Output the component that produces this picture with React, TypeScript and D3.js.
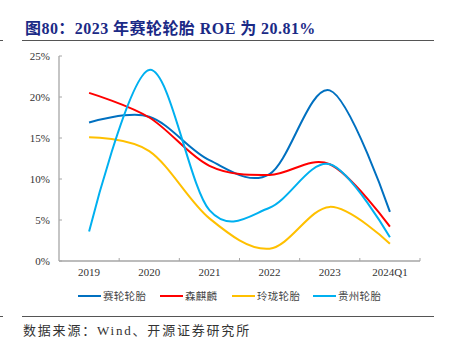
import React from "react";
import * as d3 from "d3";

const years = ["2019", "2020", "2021", "2022", "2023", "2024Q1"];
const sailun = [16.9, 17.6, 12.3, 10.6, 20.81, 6.0];
const senqilin = [20.5, 17.5, 11.6, 10.5, 11.8, 4.2];
const linglong = [15.1, 13.4, 5.2, 1.5, 6.6, 2.1];
const guizhou = [3.6, 23.3, 6.2, 6.5, 11.8, 2.9];
const yTicks = [0, 5, 10, 15, 20, 25];

const seriesList = [
  { name: "赛轮轮胎", values: sailun, color: "#0070C0" },
  { name: "森麒麟", values: senqilin, color: "#FF0000" },
  { name: "玲珑轮胎", values: linglong, color: "#FFC000" },
  { name: "贵州轮胎", values: guizhou, color: "#00B0F0" },
];

const serif = '"Times New Roman", "Liberation Serif", "Noto Sans CJK SC", serif';
const axisColor = "#a6a6a6";

const App = () => {
  const width = 454;
  const height = 352;
  const left = 59;
  const right = 420;
  const top = 56;
  const bottom = 261;

  const x = d3.scaleBand().domain(years).range([left, right]);
  const y = d3.scaleLinear().domain([0, 25]).range([bottom, top]);

  const line = d3
    .line<number>()
    .x((d, i) => (x(years[i]) as number) + x.bandwidth() / 2)
    .y((d) => y(d))
    .curve(d3.curveCardinal.tension(0));

  const legendX = [78, 160, 232, 313];

  return (
    <div style={{ position: "absolute", left: 0, top: 0 }}>
      <svg width={width} height={height} style={{ display: "block", background: "#fff" }}>
        {/* title */}
        <text
          x={25}
          y={34}
          fontFamily={serif}
          fontSize={16}
          fontWeight="bold"
          fill="#1b2a86"
          letterSpacing={0.45}
        >
          图80：2023 年赛轮轮胎 ROE 为 20.81%
        </text>
        <line x1={22} x2={434} y1={40.5} y2={40.5} stroke="#555" strokeWidth={1} />
        <line x1={0} x2={3} y1={40.5} y2={40.5} stroke="#555" strokeWidth={1} />

        {/* y axis */}
        <line x1={left} x2={left} y1={top} y2={bottom} stroke={axisColor} strokeWidth={1.3} />
        {yTicks.map((t) => (
          <g key={t}>
            <line x1={left} x2={left + 3} y1={y(t)} y2={y(t)} stroke={axisColor} strokeWidth={1} />
            <text
              x={50}
              y={y(t) + 4}
              textAnchor="end"
              fontFamily={serif}
              fontSize={11}
              fill="#333"
            >
              {t}%
            </text>
          </g>
        ))}

        {/* x axis */}
        <line x1={left} x2={right} y1={bottom} y2={bottom} stroke={axisColor} strokeWidth={1.3} />
        {years.map((yr) => (
          <g key={yr}>
            <line
              x1={(x(yr) as number) + x.bandwidth()}
              x2={(x(yr) as number) + x.bandwidth()}
              y1={bottom}
              y2={bottom - 3}
              stroke={axisColor}
              strokeWidth={1}
            />
            <text
              x={(x(yr) as number) + x.bandwidth() / 2}
              y={bottom + 15}
              textAnchor="middle"
              fontFamily={serif}
              fontSize={11}
              fill="#333"
            >
              {yr}
            </text>
          </g>
        ))}

        {/* lines */}
        {seriesList.map((s) => (
          <path
            key={s.name}
            d={line(s.values) || ""}
            fill="none"
            stroke={s.color}
            strokeWidth={2}
          />
        ))}

        {/* legend */}
        {seriesList.map((s, i) => (
          <g key={s.name} transform={`translate(${legendX[i]},296)`}>
            <line x1={0} x2={23} y1={0} y2={0} stroke={s.color} strokeWidth={2} />
            <text x={25} y={4} fontFamily={serif} fontSize={10.5} fill="#444" letterSpacing={0.3}>
              {s.name}
            </text>
          </g>
        ))}

        {/* footer */}
        <line x1={22} x2={434} y1={316.5} y2={316.5} stroke="#555" strokeWidth={1} />
        <line x1={0} x2={3} y1={316.5} y2={316.5} stroke="#555" strokeWidth={1} />
        <text x={23} y={335} fontFamily={serif} fontSize={13} fill="#333" letterSpacing={1.8}>
          数据来源：Wind、开源证券研究所
        </text>
      </svg>
    </div>
  );
};

export default App;
